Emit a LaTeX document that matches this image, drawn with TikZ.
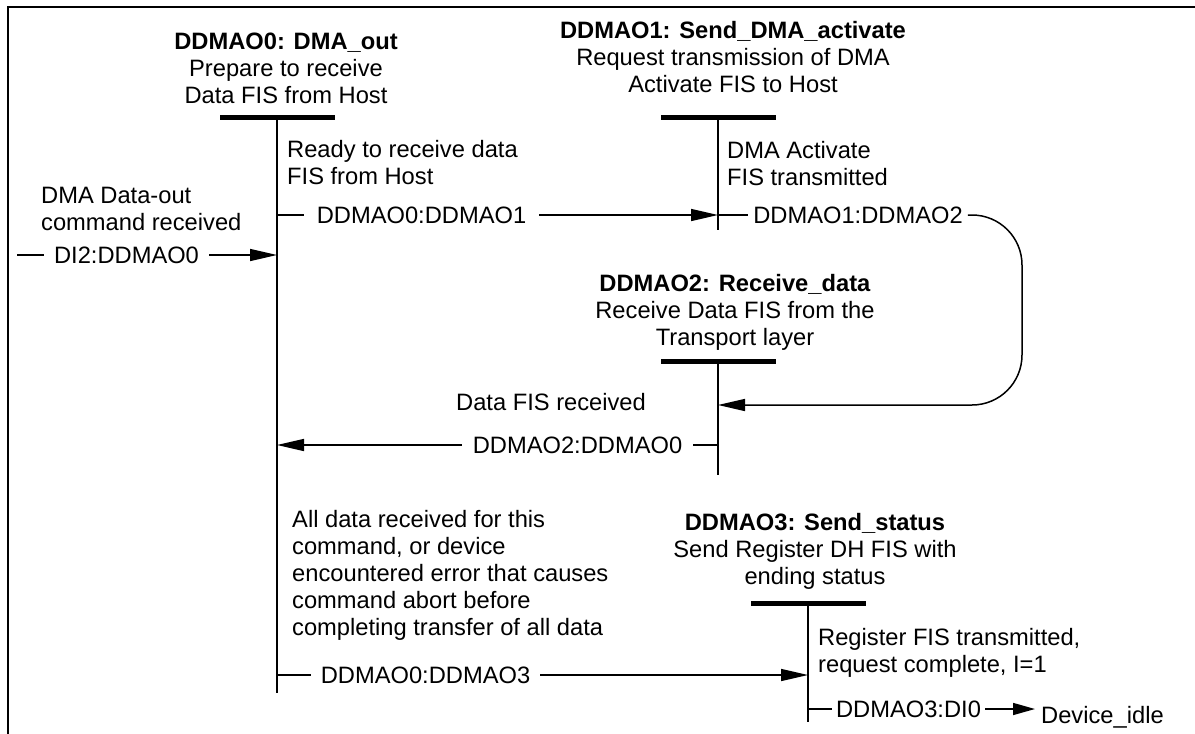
\documentclass[tikz,border=0pt]{standalone}
\usepackage{fontspec}
\setmainfont{Liberation Sans}
\usetikzlibrary{arrows.meta}

\begin{document}
\begin{tikzpicture}[
    x=1pt, y=-1pt,
    font=\fontsize{23.7}{27}\selectfont,
    statebar/.style={rectangle, fill=black, minimum width=115pt, minimum height=5pt, inner sep=0pt},
    statetext/.style={align=center, anchor=base, inner sep=0pt},
    cond/.style={align=left, anchor=base west, inner sep=0pt},
    trans/.style={inner ysep=0pt, inner xsep=12pt, text height=16.8pt, text depth=0pt},
    wire/.style={line width=1.5pt},
    arrow/.style={line width=1.5pt, -{Triangle[length=27pt, width=12pt]}}
]
\useasboundingbox (0,0) rectangle (1195,734);

% Frame
\draw[line width=2.5pt] (8,734) -- (8,7) -- (1195,7);

% States (text placed by its last line)
\node[statebar] (bar0) at (277,117) {};
\node[statebar] (bar1) at (718,117) {};
\node[statebar] (bar2) at (718,361) {};
\node[statebar] (bar3) at (808,603) {};

\node[statetext] (s0) at (286,103) {\textbf{DDMAO0: DMA\_out}\\Prepare to receive\\Data FIS from Host};
\node[statetext] (s1) at (733,92) {\textbf{DDMAO1: Send\_DMA\_activate}\\Request transmission of DMA\\Activate FIS to Host};
\node[statetext] (s2) at (735,345) {\textbf{DDMAO2: Receive\_data}\\Receive Data FIS from the\\Transport layer};
\node[statetext] (s3) at (815,584) {\textbf{DDMAO3: Send\_status}\\Send Register DH FIS with\\ending status};

% State lines
\coordinate (end0) at (277,693);
\coordinate (end1) at (718,230);
\coordinate (end2) at (718,475);
\coordinate (end3) at (808,722);
\draw[wire] (bar0.center) -- (end0);
\draw[wire] (bar1.center) -- (end1);
\draw[wire] (bar2.center) -- (end2);
\draw[wire] (bar3.center) -- (end3);

% Conditions
\node[cond] (c0in) at (41,230) {DMA Data-out\\command received};
\node[cond] (c01) at (287,184) {Ready to receive data\\FIS from Host};
\node[cond] (c12) at (727,185) {DMA Activate\\FIS transmitted};
\node[cond] (c20) at (456,410) {Data FIS received};
\node[cond] (c03) at (292,635) {All data received for this\\command, or device\\encountered error that causes\\command abort before\\completing transfer of all data};
\node[cond] (c3i) at (818,672) {Register FIS transmitted,\\request complete, I=1};

% Transitions
\coordinate (din) at (17,255);
\coordinate (loop) at (1022,405);
\coordinate (in2) at (718,405);
\node[trans, inner xsep=10pt] (tin) at (126.5,255) {DI2:DDMAO0};
\node[trans, inner xsep=13pt] (t01) at (421.5,215) {DDMAO0:DDMAO1};
\node[trans, inner xsep=5pt] (t12) at (858,215) {DDMAO1:DDMAO2};
\node[trans, inner xsep=11pt] (t20) at (577.5,445) {DDMAO2:DDMAO0};
\node[trans, inner xsep=10pt] (t03) at (425.5,675) {DDMAO0:DDMAO3};
\node[trans, inner xsep=4pt] (t3i) at (908.5,709) {DDMAO3:DI0};
\node[anchor=base west, inner sep=0pt, inner xsep=6pt] (idle) at (1035,723) {Device\_idle};

\draw[wire] (din) -- (tin.west);
\draw[arrow] (tin.east) -- (bar0 |- tin);
\draw[wire] (bar0 |- t01) -- (t01.west);
\draw[arrow] (t01.east) -- (bar1 |- t01);
\draw[wire] (bar1 |- t12) -- (t12.west);
\draw[arrow, rounded corners=50pt] (t12.east) -| (loop) -- (in2);
\draw[wire] (bar2 |- t20) -- (t20.east);
\draw[arrow] (t20.west) -- (bar0 |- t20);
\draw[wire] (bar0 |- t03) -- (t03.west);
\draw[arrow] (t03.east) -- (bar3 |- t03);
\draw[wire] (bar3 |- t3i) -- (t3i.west);
\draw[arrow, -{Triangle[length=22pt, width=12pt]}] (t3i.east) -- (idle.west |- t3i);

\end{tikzpicture}
\end{document}
